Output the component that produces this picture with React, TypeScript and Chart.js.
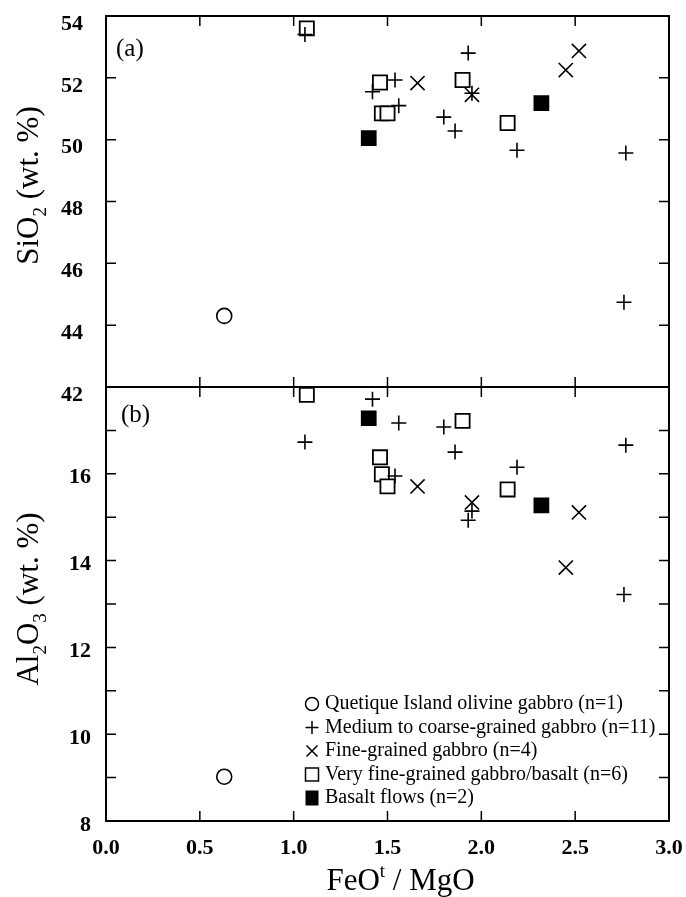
import React, { useEffect, useRef } from "react";
import { Chart, registerables } from "chart.js";

Chart.register(...registerables);

// ---------- data ----------
const RATIO_TICKS = [0, 0.5, 1.0, 1.5, 2.0, 2.5, 3.0];
const SIO2_TICKS = [42, 44, 46, 48, 50, 52, 54];
const AL2O3_TICKS = [8, 9, 10, 11, 12, 13, 14, 15, 16, 17, 18];
const AL2O3_LABELS = [8, 10, 12, 14, 16];

const olivineRatio = [0.63];
const olivineSiO2 = [44.3];
const olivineAl2O3 = [9.02];

const mediumRatio = [1.06, 1.42, 1.54, 1.56, 1.8, 1.86, 1.93, 1.95, 2.19, 2.76, 2.77];
const mediumSiO2 = [53.4, 51.55, 51.93, 51.1, 50.73, 50.28, 52.8, 51.5, 49.66, 44.74, 49.57];
const mediumAl2O3 = [16.73, 17.72, 15.95, 17.17, 17.08, 16.5, 14.93, 15.14, 16.15, 13.22, 16.66];

const fineRatio = [1.66, 1.95, 2.45, 2.52];
const fineSiO2 = [51.83, 51.45, 52.25, 52.87];
const fineAl2O3 = [15.71, 15.34, 13.84, 15.11];

const veryFineRatio = [1.07, 1.46, 1.47, 1.5, 1.9, 2.14];
const veryFineSiO2 = [53.6, 51.85, 50.85, 50.85, 51.93, 50.54];
const veryFineAl2O3 = [17.82, 16.38, 15.99, 15.71, 17.22, 15.64];

const basaltRatio = [1.4, 2.32];
const basaltSiO2 = [50.05, 51.18];
const basaltAl2O3 = [17.28, 15.27];

const LEGEND_LABELS = [
  "Quetique Island olivine gabbro (n=1)",
  "Medium to coarse-grained gabbro (n=11)",
  "Fine-grained gabbro (n=4)",
  "Very fine-grained gabbro/basalt (n=6)",
  "Basalt flows (n=2)",
];
const PANEL_LABELS = ["(a)", "(b)"];

// ---------- styling ----------
const FONT = '"Liberation Serif", "Times New Roman", "DejaVu Serif", serif';
const BLACK = "#000";

type Group = {
  label: string;
  ratio: number[];
  si: number[];
  al: number[];
  style: string;
  radius: number;
  fill: string;
  marker: string;
};

const groups: Group[] = [
  { label: LEGEND_LABELS[0], ratio: olivineRatio, si: olivineSiO2, al: olivineAl2O3, style: "circle", radius: 7.5, fill: "rgba(0,0,0,0)", marker: "circle" },
  { label: LEGEND_LABELS[1], ratio: mediumRatio, si: mediumSiO2, al: mediumAl2O3, style: "cross", radius: 7.5, fill: "rgba(0,0,0,0)", marker: "plus" },
  { label: LEGEND_LABELS[2], ratio: fineRatio, si: fineSiO2, al: fineAl2O3, style: "crossRot", radius: 10, fill: "rgba(0,0,0,0)", marker: "x" },
  { label: LEGEND_LABELS[3], ratio: veryFineRatio, si: veryFineSiO2, al: veryFineAl2O3, style: "rect", radius: 10, fill: "#fff", marker: "square" },
  { label: LEGEND_LABELS[4], ratio: basaltRatio, si: basaltSiO2, al: basaltAl2O3, style: "rect", radius: 10, fill: BLACK, marker: "filled" },
];

const pts = (xs: number[], ys: number[]) => xs.map((x, i) => ({ x, y: ys[i] }));

type Part = { t: string; s?: number; dy?: number };

function measureParts(ctx: CanvasRenderingContext2D, parts: Part[], size: number) {
  let w = 0;
  for (const p of parts) {
    ctx.font = `${Math.round(size * (p.s ?? 1))}px ${FONT}`;
    w += ctx.measureText(p.t).width;
  }
  return w;
}

function drawParts(ctx: CanvasRenderingContext2D, parts: Part[], size: number, x0: number, y0: number) {
  let x = x0;
  for (const p of parts) {
    ctx.font = `${Math.round(size * (p.s ?? 1))}px ${FONT}`;
    ctx.fillText(p.t, x, y0 + (p.dy ?? 0) * size);
    x += ctx.measureText(p.t).width;
  }
}

function drawMarker(ctx: CanvasRenderingContext2D, kind: string, x: number, y: number) {
  ctx.save();
  ctx.strokeStyle = BLACK;
  ctx.fillStyle = BLACK;
  ctx.lineWidth = 1.5;
  ctx.beginPath();
  if (kind === "circle") {
    ctx.arc(x, y, 6.5, 0, Math.PI * 2);
    ctx.stroke();
  } else if (kind === "plus") {
    ctx.moveTo(x - 6.5, y);
    ctx.lineTo(x + 6.5, y);
    ctx.moveTo(x, y - 6.5);
    ctx.lineTo(x, y + 6.5);
    ctx.stroke();
  } else if (kind === "x") {
    ctx.moveTo(x - 5.5, y - 5.5);
    ctx.lineTo(x + 5.5, y + 5.5);
    ctx.moveTo(x + 5.5, y - 5.5);
    ctx.lineTo(x - 5.5, y + 5.5);
    ctx.stroke();
  } else if (kind === "square") {
    ctx.rect(x - 6.5, y - 6.5, 13, 13);
    ctx.stroke();
  } else {
    ctx.rect(x - 6.5, y - 7.5, 13, 15);
    ctx.fill();
  }
  ctx.restore();
}

const zeroPad = (s: any) => {
  s.paddingTop = 0;
  s.paddingBottom = 0;
  s.paddingLeft = 0;
  s.paddingRight = 0;
};

const decorPlugin = {
  id: "decor",
  afterDatasetsDraw(chart: any) {
    const ctx: CanvasRenderingContext2D = chart.ctx;
    const area = chart.chartArea;
    const xs = chart.scales.x;
    const ySi = chart.scales.ySi;
    const yAl = chart.scales.yAl;
    const mid = ySi.bottom;
    const TL = 10;

    ctx.save();
    ctx.strokeStyle = BLACK;
    ctx.fillStyle = BLACK;

    // frame and panel boundary
    ctx.lineWidth = 2;
    ctx.strokeRect(area.left, area.top, area.right - area.left, area.bottom - area.top);
    ctx.beginPath();
    ctx.moveTo(area.left, mid);
    ctx.lineTo(area.right, mid);
    ctx.stroke();

    // x ticks (bottom, panel boundary, top)
    ctx.lineWidth = 1.5;
    ctx.beginPath();
    for (const v of RATIO_TICKS) {
      const px = xs.getPixelForValue(v);
      if (px <= area.left + 1 || px >= area.right - 1) continue;
      ctx.moveTo(px, area.bottom);
      ctx.lineTo(px, area.bottom - TL);
      ctx.moveTo(px, mid - TL);
      ctx.lineTo(px, mid + TL);
      ctx.moveTo(px, area.top);
      ctx.lineTo(px, area.top + TL);
    }
    for (const v of SIO2_TICKS) {
      const py = ySi.getPixelForValue(v);
      if (py <= area.top + 1 || py >= mid - 1) continue;
      ctx.moveTo(area.left, py);
      ctx.lineTo(area.left + TL, py);
      ctx.moveTo(area.right, py);
      ctx.lineTo(area.right - TL, py);
    }
    for (const v of AL2O3_TICKS) {
      const py = yAl.getPixelForValue(v);
      if (py <= mid + 1 || py >= area.bottom - 1) continue;
      ctx.moveTo(area.left, py);
      ctx.lineTo(area.left + TL, py);
      ctx.moveTo(area.right, py);
      ctx.lineTo(area.right - TL, py);
    }
    ctx.stroke();

    // panel labels
    ctx.font = `25px ${FONT}`;
    ctx.textBaseline = "alphabetic";
    ctx.textAlign = "left";
    ctx.fillText(PANEL_LABELS[0], area.left + 10, area.top + 40);
    ctx.fillText(PANEL_LABELS[1], area.left + 15, mid + 35);

    // axis titles
    const tSize = 31;
    const siParts: Part[] = [{ t: "SiO" }, { t: "2", s: 0.62, dy: 0.25 }, { t: " (wt. %)" }];
    const alParts: Part[] = [{ t: "Al" }, { t: "2", s: 0.62, dy: 0.25 }, { t: "O" }, { t: "3", s: 0.62, dy: 0.25 }, { t: " (wt. %)" }];
    const xParts: Part[] = [{ t: "FeO" }, { t: "t", s: 0.6, dy: -0.42 }, { t: " / MgO" }];

    const drawY = (parts: Part[], bx: number, cy: number) => {
      ctx.save();
      ctx.translate(bx, cy);
      ctx.rotate(-Math.PI / 2);
      const w = measureParts(ctx, parts, tSize);
      drawParts(ctx, parts, tSize, -w / 2, 0);
      ctx.restore();
    };
    drawY(siParts, 38, (area.top + mid) / 2 - 16);
    drawY(alParts, 38, (mid + area.bottom) / 2 - 5);

    const xw = measureParts(ctx, xParts, tSize);
    drawParts(ctx, xParts, tSize, (area.left + area.right) / 2 + 13 - xw / 2, 890);

    // legend
    ctx.font = `20px ${FONT}`;
    ctx.textBaseline = "middle";
    const lx = 312;
    const ly0 = 704;
    const lstep = 23.5;
    groups.forEach((g, i) => {
      const y = ly0 + i * lstep;
      drawMarker(ctx, g.marker, lx, y);
      ctx.fillStyle = BLACK;
      ctx.fillText(g.label, lx + 13, y);
    });

    ctx.restore();
  },
};

export default function App() {
  const canvasRef = useRef<HTMLCanvasElement | null>(null);

  useEffect(() => {
    if (!canvasRef.current) return;
    const datasets: any[] = [];
    for (const g of groups) {
      const common = {
        pointStyle: g.style,
        pointRadius: g.radius,
        pointHoverRadius: g.radius,
        pointBorderWidth: g.marker === "square" ? 1.8 : 1.6,
        borderColor: BLACK,
        pointBorderColor: BLACK,
        backgroundColor: g.fill,
        pointBackgroundColor: g.fill,
        showLine: false,
        clip: false,
      };
      datasets.push({ ...common, label: g.label + " SiO2", data: pts(g.ratio, g.si), yAxisID: "ySi" });
      datasets.push({ ...common, label: g.label + " Al2O3", data: pts(g.ratio, g.al), yAxisID: "yAl" });
    }

    const tickFont = { family: FONT, size: 22, weight: "bold" as const };

    const chart = new Chart(canvasRef.current, {
      type: "scatter",
      data: { datasets },
      options: {
        animation: false,
        responsive: false,
        events: [],
        layout: { padding: { top: 16, right: 17, left: 0, bottom: 0 } },
        plugins: {
          legend: { display: false },
          tooltip: { enabled: false },
          title: { display: false },
        },
        scales: {
          x: {
            type: "linear",
            position: "bottom",
            min: 0,
            max: 3,
            afterBuildTicks: (s: any) => {
              s.ticks = RATIO_TICKS.map((v) => ({ value: v }));
            },
            afterFit: (s: any) => {
              s.height = 76;
              zeroPad(s);
            },
            grid: { display: false, drawTicks: false },
            border: { display: false },
            ticks: {
              font: tickFont,
              color: BLACK,
              padding: 14,
              maxRotation: 0,
              autoSkip: false,
              callback: (v: any) => Number(v).toFixed(1),
            },
          },
          yAl: {
            type: "linear",
            position: "left",
            stack: "panels",
            stackWeight: 434,
            min: 8,
            max: 18,
            afterBuildTicks: (s: any) => {
              s.ticks = AL2O3_TICKS.map((v) => ({ value: v }));
            },
            afterFit: (s: any) => {
              s.width = 106;
              zeroPad(s);
            },
            grid: { display: false, drawTicks: false },
            border: { display: false },
            ticks: {
              font: tickFont,
              color: BLACK,
              padding: 15,
              labelOffset: 4,
              autoSkip: false,
              callback: (v: any) => (AL2O3_LABELS.includes(Number(v)) ? String(v) : ""),
            },
          },
          ySi: {
            type: "linear",
            position: "left",
            stack: "panels",
            stackWeight: 371,
            min: 42,
            max: 54,
            afterBuildTicks: (s: any) => {
              s.ticks = SIO2_TICKS.map((v) => ({ value: v }));
            },
            afterFit: (s: any) => {
              s.width = 106;
              zeroPad(s);
            },
            grid: { display: false, drawTicks: false },
            border: { display: false },
            ticks: {
              font: tickFont,
              color: BLACK,
              padding: 23,
              labelOffset: 8,
              autoSkip: false,
              callback: (v: any) => String(v),
            },
          },
        },
      },
      plugins: [decorPlugin],
    } as any);

    return () => chart.destroy();
  }, []);

  return (
    <div style={{ position: "absolute", left: 0, top: 0, width: 686, height: 897, background: "#fff" }}>
      <canvas ref={canvasRef} width={686} height={897} style={{ width: 686, height: 897, display: "block" }} />
    </div>
  );
}
